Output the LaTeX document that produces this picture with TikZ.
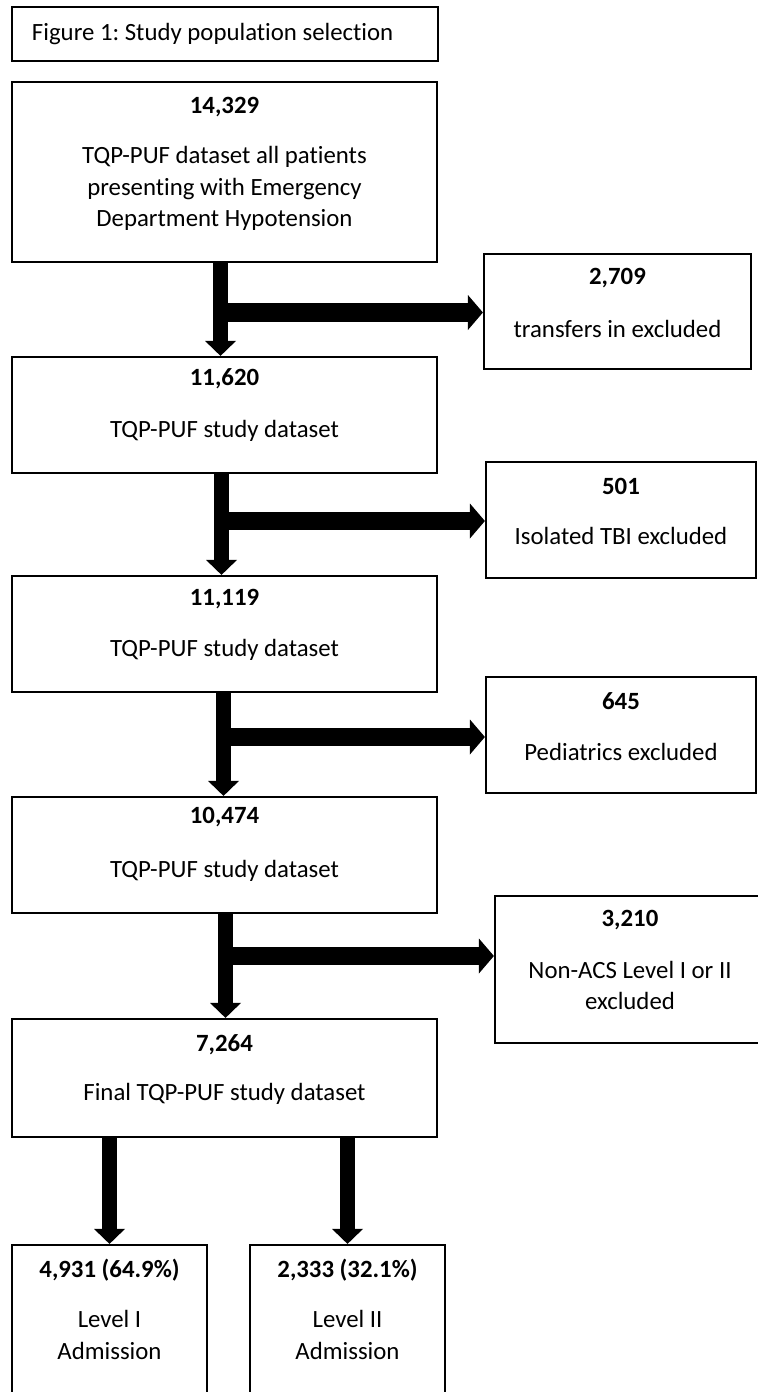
\documentclass[tikz,border=0pt]{standalone}
\usepackage{fontspec}
\setmainfont{Carlito}[Ligatures=NoCommon]
\usetikzlibrary{positioning,arrows.meta}
\frenchspacing

\begin{document}
\begin{tikzpicture}[x=0.5pt, y=-0.5pt, font=\fontsize{12.4}{15.75}\selectfont,
  box/.style={draw, line width=1.1pt, inner sep=0pt},
  mainbox/.style={box, minimum width=212.5pt, minimum height=58pt},
  sidebox/.style={box, minimum width=135pt, minimum height=58pt},
  num/.style={font=\fontsize{12.4}{15.75}\selectfont\bfseries, inner sep=0pt},
  desc/.style={align=center, inner sep=0pt},
  vbar/.style={line width=7.5pt, -{Triangle[length=7.5pt, width=15.5pt, line width=0pt]}},
  hbar/.style={line width=9.25pt, -{Triangle[length=7.5pt, width=17.5pt, line width=0pt]}}]
\useasboundingbox (0,0) rectangle (758,1392);
% title
\node[box, text width=193pt, inner xsep=10pt, minimum height=27pt, align=flush left] (title) at (225,34)
  {Figure 1: Study population selection};
% main column
\node[mainbox, minimum height=90pt] (b1) at (224.5,172) {};
\node[num] (n1) at (224.5,107) {14,329};
\node[desc] (d1) at (224.5,188.5) {TQP-PUF dataset all patients\\presenting with Emergency\\Department Hypotension};
\node[mainbox] (b2) at (224.5,415) {};
\node[num] (n2) at (224.5,379) {11,620};
\node[desc] (d2) at (224.5,431) {TQP-PUF study dataset};
\node[mainbox] (b3) at (224.5,634) {};
\node[num] (n3) at (224.5,599) {11,119};
\node[desc] (d3) at (224.5,650) {TQP-PUF study dataset};
\node[mainbox] (b4) at (224.5,855) {};
\node[num] (n4) at (224.5,817) {10,474};
\node[desc] (d4) at (224.5,871) {TQP-PUF study dataset};
\node[mainbox, minimum height=59pt] (b5) at (224.5,1078) {};
\node[num] (n5) at (224.5,1045) {7,264};
\node[desc] (d5) at (224.5,1094) {Final TQP-PUF study dataset};
% exclusions
\node[sidebox, minimum width=133.5pt, minimum height=57.5pt] (r1) at (617.5,311.5) {};
\node[num] (m1) at (617.5,278) {2,709};
\node[desc] (e1) at (617.5,329) {transfers in excluded};
\node[sidebox] (r2) at (621,520) {};
\node[num] (m2) at (621,486) {501};
\node[desc] (e2) at (621,536) {Isolated TBI excluded};
\node[sidebox] (r3) at (621,735) {};
\node[num] (m3) at (621,701) {645};
\node[desc] (e3) at (621,752) {Pediatrics excluded};
\node[sidebox, minimum height=73.5pt] (r4) at (630,969.5) {};
\node[num] (m4) at (630,920) {3,210};
\node[desc] (e4) at (630,985.5) {Non-ACS Level I or II\\excluded};
% admissions
\node[box, minimum width=97.5pt, minimum height=87.5pt] (l1) at (109.5,1332.5) {};
\node[num] (k1) at (109.5,1270) {4,931 (64.9\%)};
\node[desc] (a1) at (109.5,1335) {Level I\\Admission};
\node[box, minimum width=97.5pt, minimum height=87.5pt] (l2) at (347.5,1332.5) {};
\node[num] (k2) at (347.5,1270) {2,333 (32.1\%)};
\node[desc] (a2) at (347.5,1335) {Level II\\Admission};
% arrows
\coordinate (j1) at (220.5,312.5);
\coordinate (j2) at (221.5,521);
\coordinate (j3) at (223.5,737);
\coordinate (j4) at (225.5,956);
\draw[vbar] (b1.south -| j1) -- (b2.north -| j1);
\draw[vbar] (b2.south -| j2) -- (b3.north -| j2);
\draw[vbar] (b3.south -| j3) -- (b4.north -| j3);
\draw[vbar] (b4.south -| j4) -- (b5.north -| j4);
\draw[hbar] (j1) -- (j1 -| r1.west);
\draw[hbar] (j2) -- (j2 -| r2.west);
\draw[hbar] (j3) -- (j3 -| r3.west);
\draw[hbar] (j4) -- (j4 -| r4.west);
\draw[vbar] (b5.south -| l1.north) -- (l1.north);
\draw[vbar] (b5.south -| l2.north) -- (l2.north);
\end{tikzpicture}
\end{document}
